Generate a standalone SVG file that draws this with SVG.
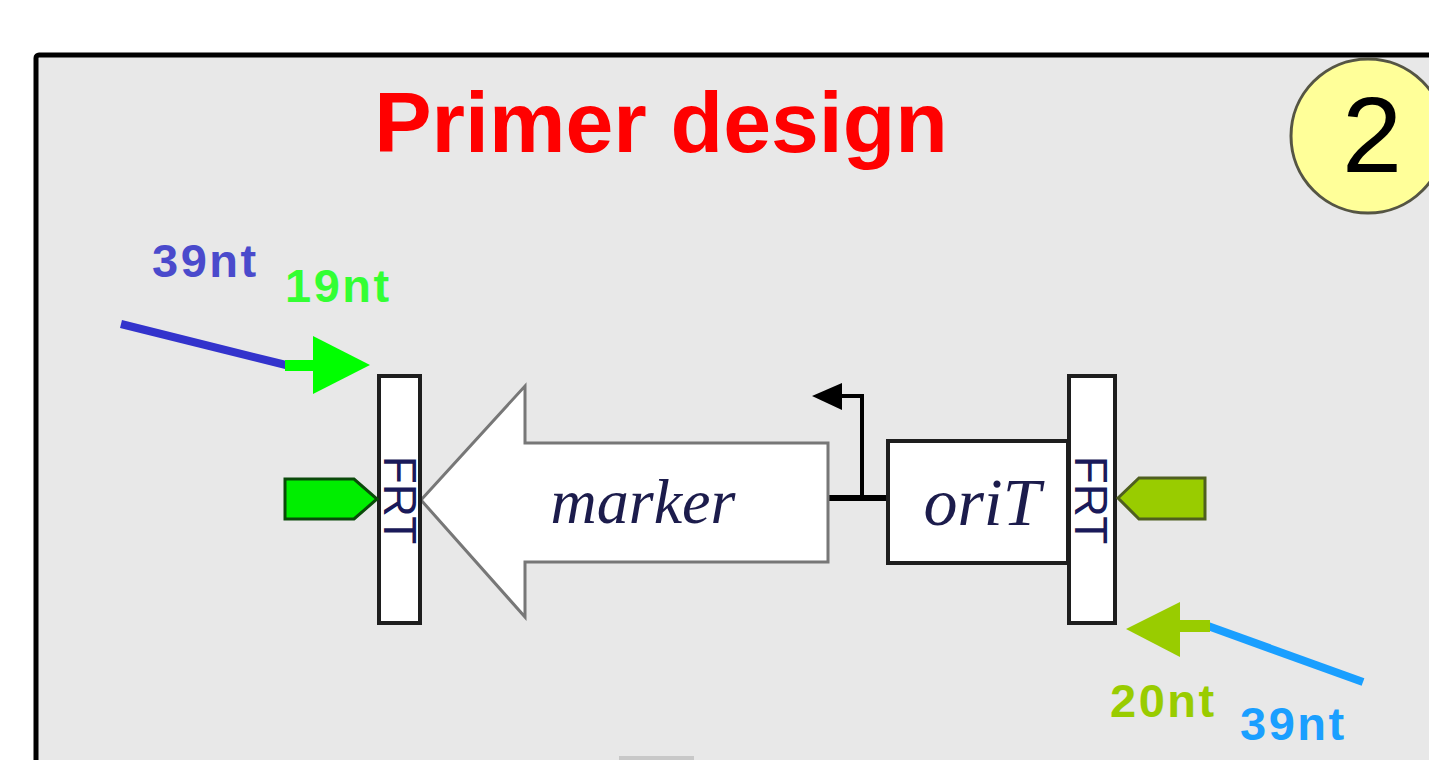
<svg xmlns="http://www.w3.org/2000/svg" width="1429" height="760" viewBox="0 0 1429 760">
<style>
.lbl{font-family:"Liberation Sans",Arial,sans-serif;font-weight:bold;font-size:47px;letter-spacing:2.5px}
.frt{font-family:"Liberation Sans",Arial,sans-serif;font-size:46px;fill:#1a1a5a}
.it{font-family:"Liberation Serif","Times New Roman",serif;font-style:italic;fill:#1c1c4c}
.box{fill:#ffffff;stroke:#1e1e1e;stroke-width:4}
</style>
<rect x="0" y="0" width="1429" height="760" fill="#ffffff"/>
<g id="panel">
<rect x="36" y="55" width="1420" height="740" rx="3" fill="#e8e8e8" stroke="#000000" stroke-width="5"/>
<rect x="619" y="756" width="75" height="10" fill="#c8c8c8"/>
</g>
<g id="title"><text x="661" y="152" text-anchor="middle" font-family="'Liberation Sans',Arial,sans-serif" font-weight="bold" font-size="86" fill="#ff0000">Primer design</text></g>
<g id="step-badge">
<circle cx="1368" cy="136" r="77" fill="#ffff99" stroke="#555544" stroke-width="3"/>
<text x="1372" y="172" text-anchor="middle" font-family="'Liberation Sans',Arial,sans-serif" font-size="108" fill="#000000">2</text>
</g>
<g id="connectors">
<line x1="828" y1="498" x2="887" y2="498" stroke="#000" stroke-width="6"/>
<polyline points="862,498 862,396 838,396" fill="none" stroke="#000" stroke-width="4"/>
<polygon points="812,396 842,383 842,410" fill="#000"/>
</g>
<g id="marker">
<polygon points="421,500 525,386 525,443 828,443 828,562 525,562 525,617" fill="#ffffff" stroke="#777777" stroke-width="3" stroke-linejoin="miter"/>
<text class="it" x="643" y="523" text-anchor="middle" font-size="64">marker</text>
</g>
<g id="oriT">
<rect class="box" x="888" y="441" width="180" height="122"/>
<text class="it" x="982" y="525" text-anchor="middle" font-size="68">oriT</text>
</g>
<g id="frt-left">
<rect class="box" x="379" y="376" width="41" height="247"/>
<text class="frt" transform="translate(384,500) rotate(90)" text-anchor="middle">FRT</text>
</g>
<g id="frt-right">
<rect class="box" x="1069" y="376" width="46" height="247"/>
<text class="frt" transform="translate(1075,500) rotate(90)" text-anchor="middle">FRT</text>
</g>
<g id="tag-left">
<polygon points="285,479 354,479 377,499 354,519 285,519" fill="#00ee00" stroke="#0a4a0a" stroke-width="3"/>
</g>
<g id="tag-right">
<polygon points="1118,498 1139,478 1205,478 1205,519 1139,519" fill="#99cc00" stroke="#4f5f1f" stroke-width="3"/>
</g>
<g id="primer-fwd">
<line x1="121" y1="324" x2="286" y2="365" stroke="#3333cc" stroke-width="8"/>
<rect x="285" y="360" width="30" height="11" fill="#00ff00"/>
<polygon points="313,336 370,365 313,394" fill="#00ff00"/>
<text class="lbl" x="152" y="277" fill="#4a4acc">39nt</text>
<text class="lbl" x="285" y="302" fill="#33ff33">19nt</text>
</g>
<g id="primer-rev">
<line x1="1208" y1="626" x2="1363" y2="682" stroke="#1a9fff" stroke-width="8"/>
<rect x="1178" y="620" width="32" height="12" fill="#99cc00"/>
<polygon points="1126,629 1180,602 1180,657" fill="#99cc00"/>
<text class="lbl" x="1110" y="717" fill="#99cc00">20nt</text>
<text class="lbl" x="1240" y="740" fill="#1a9fff">39nt</text>
</g>
</svg>
